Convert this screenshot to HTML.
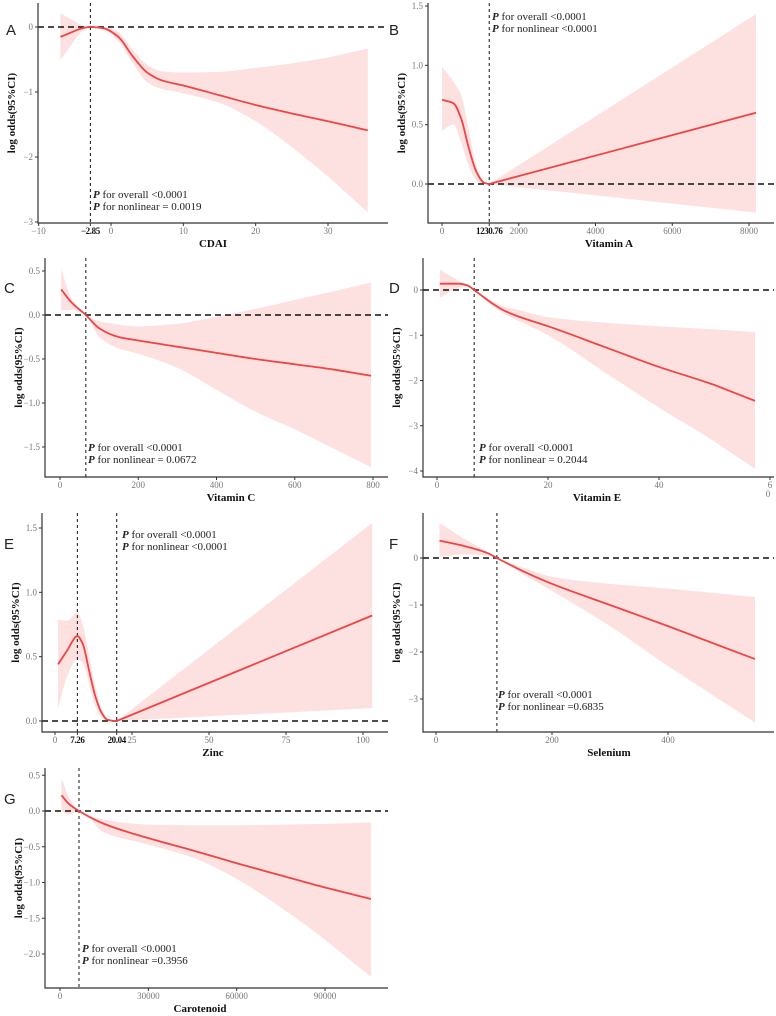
<!DOCTYPE html>
<html><head><meta charset="utf-8"><style>
html,body{margin:0;padding:0;background:#fff;}
svg{display:block;}
text{font-family:"Liberation Serif",serif;}
.tick{fill:#777;font-size:9px;}
.ttl{fill:#111;font-size:11px;font-weight:bold;}
.pl{font-family:"Liberation Sans",sans-serif;font-size:15px;fill:#222;}
.pt{font-size:11px;fill:#222;}
</style></head><body>
<svg id="fig" width="776" height="1016" viewBox="0 0 776 1016"></svg>
<script>
// ---- data ----
const aX=[-7,-2.85,-1,1,3,5,7,10,15,20,25,30,35.5];
const aFit=[-0.15,0,-0.02,-0.15,-0.45,-0.7,-0.82,-0.9,-1.05,-1.2,-1.33,-1.45,-1.59];
const aHi=[0.21,0,0,-0.08,-0.35,-0.58,-0.68,-0.7,-0.69,-0.63,-0.56,-0.47,-0.33];
const aLo=[-0.5,0,-0.04,-0.22,-0.55,-0.85,-0.95,-1.02,-1.17,-1.45,-1.85,-2.3,-2.85];

const bX=[0,300,500,700,900,1100,1230.76,8180];
const bFit=[0.71,0.68,0.55,0.3,0.1,0.01,0,0.6];
const bHi=[0.99,0.86,0.75,0.45,0.15,0.02,0,1.43];
const bLo=[0.45,0.5,0.35,0.15,0.03,0.0,0,-0.24];

const cX=[3,30,66,100,150,200,300,400,500,600,700,795];
const cFit=[0.29,0.14,0,-0.15,-0.25,-0.29,-0.36,-0.43,-0.5,-0.56,-0.62,-0.69];
const cHi=[0.52,0.18,0,-0.07,-0.11,-0.13,-0.1,-0.02,0.07,0.17,0.27,0.37];
const cLo=[0.05,0.06,0,-0.25,-0.38,-0.44,-0.6,-0.85,-1.1,-1.3,-1.52,-1.73];

const dX=[0.5,4,5.5,6.7,8,10,12,15,20,30,40,50,57.3];
const dFit=[0.14,0.14,0.1,0,-0.12,-0.3,-0.45,-0.6,-0.8,-1.25,-1.7,-2.1,-2.45];
const dHi=[0.45,0.2,0.1,0,-0.1,-0.25,-0.36,-0.45,-0.6,-0.72,-0.8,-0.87,-0.93];
const dLo=[-0.17,0.05,0.08,0,-0.14,-0.35,-0.52,-0.7,-1.0,-1.8,-2.6,-3.35,-3.95];

const eX=[1,4,7.26,9,11,13,15,17,20.04,103];
const eFit=[0.44,0.55,0.66,0.6,0.4,0.2,0.07,0.01,0,0.82];
const eHi=[0.79,0.78,0.84,0.75,0.52,0.28,0.1,0.02,0,1.54];
const eLo=[0.1,0.35,0.48,0.45,0.3,0.12,0.03,0.005,0,0.1];

const fX=[6,50,90,105,150,200,300,400,550];
const fFit=[0.37,0.25,0.1,0,-0.28,-0.55,-1.0,-1.45,-2.15];
const fHi=[0.75,0.4,0.12,0,-0.2,-0.4,-0.55,-0.65,-0.83];
const fLo=[0.02,0.08,0.05,0,-0.35,-0.7,-1.45,-2.3,-3.5];

const gX=[500,3000,6450,15000,30000,45000,60000,75000,90000,105600];
const gFit=[0.22,0.1,0,-0.18,-0.38,-0.55,-0.73,-0.9,-1.07,-1.23];
const gHi=[0.46,0.2,0,-0.12,-0.19,-0.2,-0.2,-0.19,-0.18,-0.16];
const gLo=[0.0,-0.05,0,-0.3,-0.47,-0.65,-0.95,-1.35,-1.8,-2.32];

// tick labels
const aXTicks=[-10,-2.85,0,10,20,30], aYTicks=[0,-1,-2,-3];
const bXTicks=[0,1230.76,2000,4000,6000,8000], bYTicks=[0,0.5,1,1.5];
const cXTicks=[0,200,400,600,800], cYTicks=[0.5,0,-0.5,-1,-1.5];
const dXTicks=[0,20,40,60], dYTicks=[0,-1,-2,-3,-4];
const eXTicks=[0,7.26,20.04,25,50,75,100], eYTicks=[0,0.5,1,1.5];
const fXTicks=[0,200,400], fYTicks=[0,-1,-2,-3];
const gXTicks=[0,30000,60000,90000], gYTicks=[0.5,0,-0.5,-1,-1.5,-2];

// ---- layout (geometry only) ----
const NS="http://www.w3.org/2000/svg";
const svg=document.getElementById('fig');
function mk(tag,attrs,parent){const e=document.createElementNS(NS,tag);for(const k in attrs)e.setAttribute(k,attrs[k]);(parent||svg).appendChild(e);return e;}
function lin(d0,d1,r0,r1){return v=>r0+(v-d0)*(r1-r0)/(d1-d0);}
// monotone cubic segments; last segment drawn straight (linear tail of spline)
function monoSegs(pts){
  const n=pts.length,dx=[],m=[],t=new Array(n);
  for(let i=0;i<n-1;i++){dx.push(pts[i+1][0]-pts[i][0]);m.push((pts[i+1][1]-pts[i][1])/dx[i]);}
  t[0]=m[0];t[n-1]=m[n-2];
  for(let i=1;i<n-1;i++){
    if(m[i-1]*m[i]<=0)t[i]=0;
    else{const w1=2*dx[i]+dx[i-1],w2=dx[i]+2*dx[i-1];t[i]=(w1+w2)/(w1/m[i-1]+w2/m[i]);}
  }
  const segs=[];
  for(let i=0;i<n-1;i++){
    const h=dx[i]/3;
    let tl=t[i],tr=t[i+1];
    if(i===n-2){tl=m[i];tr=m[i];}
    segs.push([pts[i],[pts[i][0]+h,pts[i][1]+h*tl],[pts[i+1][0]-h,pts[i+1][1]-h*tr],pts[i+1]]);
  }
  return segs;
}
const f2=v=>v.toFixed(2);
function pathFwd(segs){let d='';segs.forEach(s=>{d+=' C'+f2(s[1][0])+','+f2(s[1][1])+' '+f2(s[2][0])+','+f2(s[2][1])+' '+f2(s[3][0])+','+f2(s[3][1]);});return d;}
function pathRev(segs){let d='';for(let i=segs.length-1;i>=0;i--){const s=segs[i];d+=' C'+f2(s[2][0])+','+f2(s[2][1])+' '+f2(s[1][0])+','+f2(s[1][1])+' '+f2(s[0][0])+','+f2(s[0][1]);}return d;}
function fmt(v){ return String(v).replace('-','\u2212');}

function panel(cfg){
  const g=mk('g',{});
  
  
  const sx=lin(cfg.xd[0],cfg.xd[1],cfg.xr[0],cfg.xr[1]);
  const sy=lin(cfg.yd[0],cfg.yd[1],cfg.yr[0],cfg.yr[1]);
  const up=cfg.x.map((v,i)=>[sx(v),sy(cfg.hi[i])]);
  const lo=cfg.x.map((v,i)=>[sx(v),sy(cfg.lo[i])]);
  const upS=monoSegs(up),loS=monoSegs(lo);
  const bd='M'+f2(up[0][0])+','+f2(up[0][1])+pathFwd(upS)+' L'+f2(lo[lo.length-1][0])+','+f2(lo[lo.length-1][1])+pathRev(loS)+' Z';
  const band=mk('path',{d:bd,fill:'#fde0e0',stroke:'none'},g);
  
  
  const h=mk('line',{x1:cfg.axX,x2:cfg.right,y1:sy(0),y2:sy(0),stroke:'#111','stroke-width':1.4,'stroke-dasharray':'6,4'},g);
  
  
  cfg.vref.forEach(v=>{
    const l=mk('line',{x1:sx(v),x2:sx(v),y1:cfg.top,y2:cfg.axY,stroke:'#111','stroke-width':1,'stroke-dasharray':'3,3'},g);
    
    
  });
  const fp=cfg.x.map((v,i)=>[sx(v),sy(cfg.fit[i])]);
  const c=mk('path',{d:'M'+f2(fp[0][0])+','+f2(fp[0][1])+pathFwd(monoSegs(fp)),fill:'none',stroke:'#ef4444','stroke-width':1.8},g);
  
  
  const ax=mk('path',{d:`M${cfg.axX},${cfg.top} V${cfg.axY} H${cfg.right}`,fill:'none',stroke:'#333','stroke-width':1.2},g);
  
  
  cfg.yt.forEach(v=>{
    const y=sy(v);
    mk('line',{x1:cfg.axX-3,x2:cfg.axX,y1:y,y2:y,stroke:'#333','stroke-width':1},g);
    const t=mk('text',{x:cfg.axX-5,y:y+3,'text-anchor':'end',class:'tick'},g);
    t.textContent=cfg.yfmt?cfg.yfmt(v):fmt(v);
    
    
  });
  cfg.xt.forEach(v=>{
    const x=sx(v);
    mk('line',{x1:x,x2:x,y1:cfg.axY,y2:cfg.axY+3,stroke:'#333','stroke-width':1},g);
    const bold=cfg.vref.indexOf(v)>=0;
    const t=mk('text',{x:x,y:cfg.axY+11,'text-anchor':'middle',class:'tick',style:bold?'fill:#111;font-weight:bold;letter-spacing:-0.4px':''},g);
    t.textContent=(cfg.xlab&&cfg.xlab[v])?cfg.xlab[v]:fmt(v);
    
    
  });
  const xt=mk('text',{x:cfg.titleX,y:cfg.axY+24,'text-anchor':'middle',class:'ttl'},g);
  xt.textContent=cfg.title;
  
  
  const ym=(cfg.top+cfg.axY)/2;
  const yt=mk('text',{x:0,y:0,'text-anchor':'middle',class:'ttl',transform:`translate(${cfg.axX-23},${ym}) rotate(-90)`},g);
  yt.textContent='log odds(95%CI)';
  
  
  const pl=mk('text',{x:cfg.lab[0],y:cfg.lab[1],class:'pl'},g);
  pl.textContent=cfg.id;
  
  
  cfg.p.forEach((s,i)=>{
    const t=mk('text',{x:cfg.pxy[0],y:cfg.pxy[1]+i*12,class:'pt'},g);
    const b=mk('tspan',{'font-weight':'bold','font-style':'italic'},t);b.textContent='P';
    const r=mk('tspan',{},t);r.textContent=' '+s;
    
    
  });
}

panel({id:'A',x:aX,fit:aFit,hi:aHi,lo:aLo,xt:aXTicks,yt:aYTicks,vref:[-2.85],
  xd:[0,30],xr:[111,328],yd:[0,-2],yr:[27,157],axX:38,top:3,axY:223,right:388,titleX:213,title:'CDAI',
  lab:[6,35],pxy:[93,198],p:['for overall <0.0001','for nonlinear = 0.0019']});
panel({id:'B',x:bX,fit:bFit,hi:bHi,lo:bLo,xt:bXTicks,yt:bYTicks,vref:[1230.76],
  xd:[0,8000],xr:[442,749],yd:[0,1.5],yr:[184,6],axX:428,top:3,axY:223,right:774,titleX:609,title:'Vitamin A',
  lab:[389,35],pxy:[492,20],p:['for overall <0.0001','for nonlinear <0.0001'],yfmt:v=>v.toFixed(1)});
panel({id:'C',x:cX,fit:cFit,hi:cHi,lo:cLo,xt:cXTicks,yt:cYTicks,vref:[66],
  xd:[0,800],xr:[60,373],yd:[0,-1],yr:[315,403],axX:45,top:258,axY:477,right:388,titleX:231,title:'Vitamin C',
  lab:[4,293],pxy:[88,451],p:['for overall <0.0001','for nonlinear = 0.0672'],yfmt:v=>v.toFixed(1).replace('-','\u2212')});
panel({id:'D',x:dX,fit:dFit,hi:dHi,lo:dLo,xt:dXTicks,yt:dYTicks,vref:[6.7],
  xd:[0,40],xr:[437,659],yd:[0,-4],yr:[290,471],axX:423,top:258,axY:477,right:774,titleX:597,title:'Vitamin E',
  lab:[389,293],pxy:[479,451],p:['for overall <0.0001','for nonlinear = 0.2044'],xlab:{60:'6'}});
panel({id:'E',x:eX,fit:eFit,hi:eHi,lo:eLo,xt:eXTicks,yt:eYTicks,vref:[7.26,20.04],
  xd:[0,100],xr:[55,363],yd:[0,1.5],yr:[721,528],axX:42,top:513,axY:732,right:388,titleX:213,title:'Zinc',
  lab:[4,549],pxy:[122,538],p:['for overall <0.0001','for nonlinear <0.0001'],yfmt:v=>v.toFixed(1)});
panel({id:'F',x:fX,fit:fFit,hi:fHi,lo:fLo,xt:fXTicks,yt:fYTicks,vref:[105],
  xd:[0,400],xr:[436,668],yd:[0,-3],yr:[558,699],axX:423,top:513,axY:732,right:774,titleX:609,title:'Selenium',
  lab:[389,549],pxy:[498,698],p:['for overall <0.0001','for nonlinear =0.6835']});
panel({id:'G',x:gX,fit:gFit,hi:gHi,lo:gLo,xt:gXTicks,yt:gYTicks,vref:[6450],
  xd:[0,90000],xr:[60,325],yd:[0,-2],yr:[811,954],axX:45,top:768,axY:988,right:388,titleX:200,title:'Carotenoid',
  lab:[4,804],pxy:[82,952],p:['for overall <0.0001','for nonlinear =0.3956'],yfmt:v=>v.toFixed(1).replace('-','\u2212')});
const z=mk('text',{x:768,y:497,'text-anchor':'middle',class:'tick'});z.textContent='0';


</script>
</body></html>
